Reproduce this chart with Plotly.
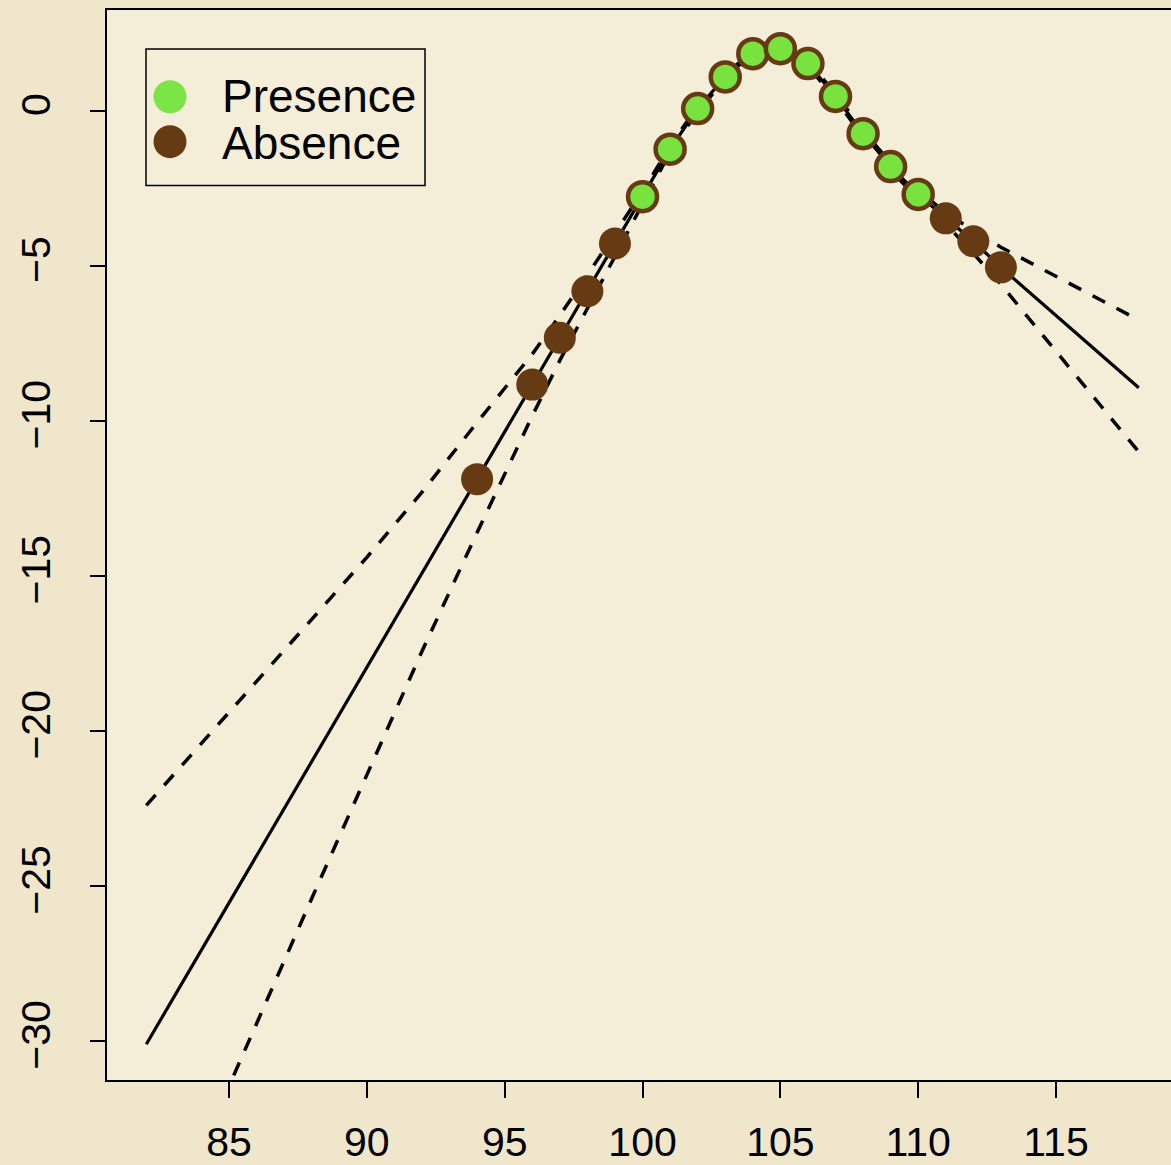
import plotly.graph_objects as go

# ---- data ----
presence_x = [100, 101, 102, 103, 104, 105, 106, 107, 108, 109, 110]
presence_y = [-2.77, -1.24, 0.07, 1.09, 1.84, 2.00, 1.52, 0.46, -0.74, -1.80, -2.70]

absence_x = [94, 96, 97, 98, 99, 111, 112, 113]
absence_y = [-11.88, -8.83, -7.32, -5.82, -4.28, -3.47, -4.21, -5.05]

fit_x = [82, 94, 96, 97, 98, 99, 100, 101, 102, 103, 104, 105, 106, 107, 108, 109, 110, 111, 112, 113, 118]
fit_y = [-30.1, -11.88, -8.83, -7.32, -5.82, -4.28, -2.77, -1.24, 0.07, 1.09, 1.84, 2.00, 1.52, 0.46,
         -0.74, -1.80, -2.70, -3.47, -4.21, -5.05, -8.93]

upper_x = [82, 86, 90, 92, 94, 96, 97, 98, 99, 100, 101, 102, 103, 104, 105, 106, 107, 108, 109, 110,
           111, 112, 113, 118]
upper_y = [-22.4, -18.4, -14.4, -12.3, -10.05, -7.85, -6.6, -5.3, -3.95, -2.6, -1.14, 0.15, 1.17, 1.92,
           2.08, 1.6, 0.55, -0.64, -1.68, -2.55, -3.3, -3.85, -4.4, -6.75]

lower_x = [84, 85, 88, 91, 92, 94, 96, 97, 98, 99, 100, 101, 102, 103, 104, 105, 106, 107, 108, 109,
           110, 111, 112, 113, 118]
lower_y = [-33.5, -31.45, -25.4, -19.4, -17.43, -13.6, -9.84, -8.05, -6.4, -4.7, -3.0, -1.34, -0.02,
           1.01, 1.76, 1.92, 1.44, 0.37, -0.84, -1.92, -2.85, -3.65, -4.6, -5.6, -11.0]

x_ticks = [85, 90, 95, 100, 105, 110, 115]
y_ticks = [-30, -25, -20, -15, -10, -5, 0]
legend_labels = ["Presence", "Absence"]

GREEN = "#78e23f"
BROWN = "#663a13"
FONT = "Liberation Sans, Arial, Helvetica, sans-serif"

fig = go.Figure()

fig.add_trace(go.Scatter(x=upper_x, y=upper_y, mode="lines",
                         line=dict(color="black", width=3.5, dash="14px,13px"), hoverinfo="skip"))
fig.add_trace(go.Scatter(x=lower_x, y=lower_y, mode="lines",
                         line=dict(color="black", width=3.5, dash="14px,13px"), hoverinfo="skip"))
fig.add_trace(go.Scatter(x=fit_x, y=fit_y, mode="lines",
                         line=dict(color="black", width=3.2), hoverinfo="skip"))
fig.add_trace(go.Scatter(x=absence_x, y=absence_y, mode="markers", name=legend_labels[1],
                         marker=dict(color=BROWN, size=32, line=dict(width=0))))
fig.add_trace(go.Scatter(x=presence_x, y=presence_y, mode="markers", name=legend_labels[0],
                         marker=dict(color=GREEN, size=29, line=dict(color=BROWN, width=4.5))))

# plot area in pixels: x 107..1171, y 10..1083
W, H = 1171, 1165
L, R, T, B = 107, 0, 10, 82
pw, ph = W - L - R, H - T - B

def px(x):
    return (x - L) / pw

def py(y):
    return (H - B - y) / ph

shapes = [
    dict(type="rect", xref="paper", yref="paper", x0=px(146), x1=px(425), y0=py(186), y1=py(49),
         line=dict(color="black", width=1.5), fillcolor="rgba(0,0,0,0)", layer="above"),
    dict(type="circle", xref="paper", yref="paper", xsizemode="pixel", ysizemode="pixel",
         xanchor=px(170), yanchor=py(97), x0=-16.5, x1=16.5, y0=-16.5, y1=16.5,
         fillcolor="#7be447", line=dict(width=0), layer="above"),
    dict(type="circle", xref="paper", yref="paper", xsizemode="pixel", ysizemode="pixel",
         xanchor=px(170), yanchor=py(142), x0=-16.5, x1=16.5, y0=-16.5, y1=16.5,
         fillcolor=BROWN, line=dict(width=0), layer="above"),
]
annotations = [
    dict(xref="paper", yref="paper", x=px(220), y=py(96), text=legend_labels[0], showarrow=False,
         xanchor="left", yanchor="middle", font=dict(family=FONT, size=46, color="black")),
    dict(xref="paper", yref="paper", x=px(220), y=py(143), text=legend_labels[1], showarrow=False,
         xanchor="left", yanchor="middle", font=dict(family=FONT, size=46, color="black")),
]

fig.update_layout(
    width=W, height=H,
    margin=dict(l=L, r=R, t=T, b=B, pad=0),
    paper_bgcolor="#f0e6cc",
    plot_bgcolor="#f4edd7",
    showlegend=False,
    shapes=shapes,
    annotations=annotations,
    font=dict(family=FONT, color="black"),
)
fig.update_xaxes(
    range=[80.574, 119.17], tickvals=x_ticks, ticktext=[str(v) for v in x_ticks],
    showgrid=False, zeroline=False, showline=True, mirror=True, linecolor="black", linewidth=1.5,
    ticks="outside", ticklen=16, tickwidth=1.5, tickcolor="black",
    tickfont=dict(family=FONT, size=41, color="black"), ticklabelstandoff=9,
)
fig.update_yaxes(
    range=[-31.254, 3.248], tickvals=y_ticks,
    showgrid=False, zeroline=False, showline=True, mirror=False, linecolor="black", linewidth=1.5,
    ticks="outside", ticklen=15, tickwidth=1.5, tickcolor="black", tickangle=-90,
    tickfont=dict(family=FONT, size=41, color="black"), ticklabelstandoff=24,
)

fig.write_html("out.html", config={"displayModeBar": False},
               post_script="document.body.style.margin='0';")
